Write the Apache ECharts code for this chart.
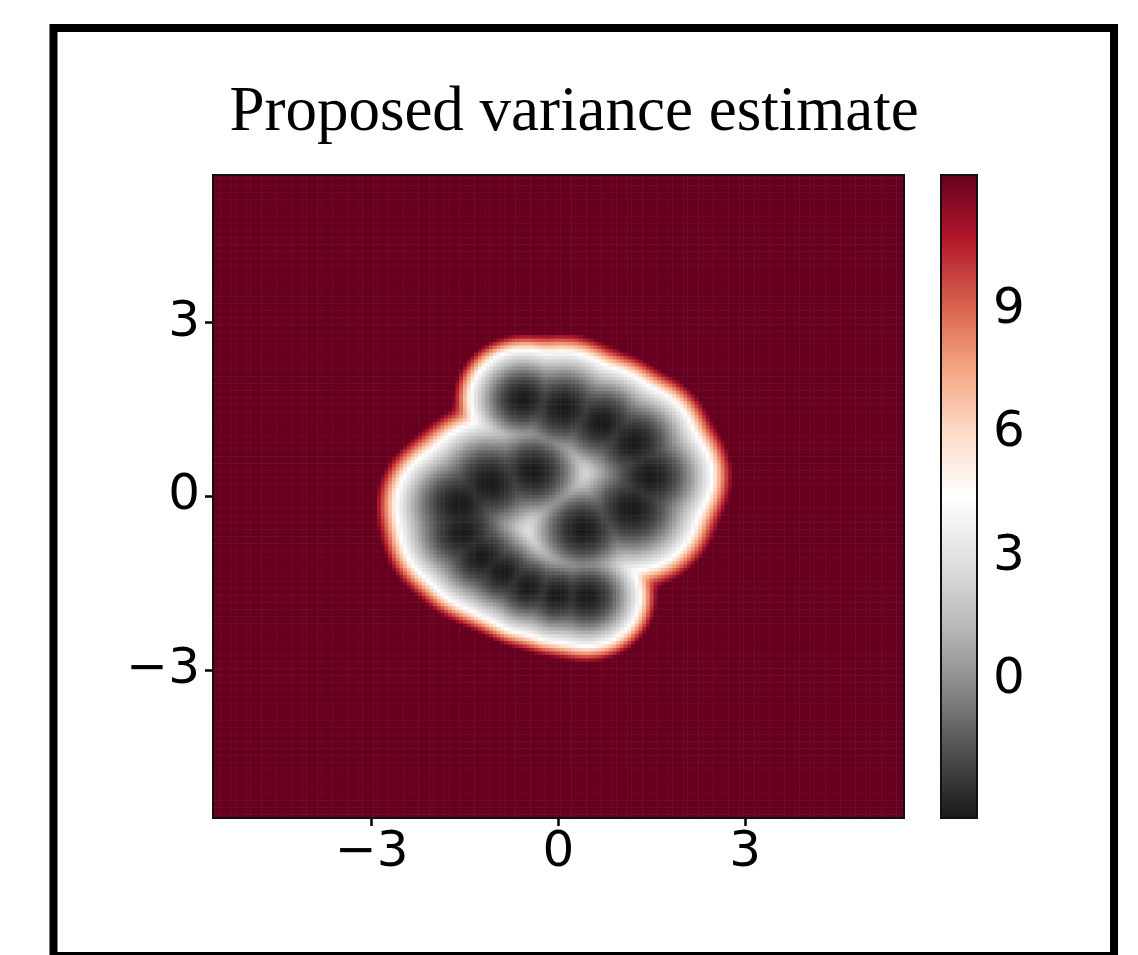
<!DOCTYPE html>
<html><head><meta charset="utf-8">
<script src="https://cdn.jsdelivr.net/npm/echarts@6/dist/echarts.min.js"></script>
<style>html,body{margin:0;padding:0;background:#fff}#c{width:1138px;height:955px}</style>
</head><body><div id="c"></div>
<script>
// Training points (centres of the dark blobs), and the
// radius (data units) at which the variance reaches the white level around each.
const pointX = [-0.56, 0.08, 0.70, 1.21, 1.47, 1.18, 0.40, -0.41, -1.10, -1.58, -1.53, -1.23, -0.89, -0.49, -0.02, 0.46];
const pointY = [1.68, 1.53, 1.28, 0.93, 0.35, -0.22, -0.57, 0.43, 0.24, -0.14, -0.62, -1.04, -1.31, -1.56, -1.70, -1.73];
const pointR = [0.85, 0.97, 0.95, 0.97, 1.00, 1.05, 0.95, 0.95, 1.05, 1.02, 0.98, 0.90, 0.82, 0.80, 0.80, 0.85];

const valueMin = -3.36, valueMax = 12.28;          // colour bar range
const gridMin = -5.55, gridMax = 5.55, cellStep = 0.06;
const xTickLabels = [-3, 0, 3];
const yTickLabels = [-3, 0, 3];
const colorbarTickLabels = [0, 3, 6, 9];
const titleText = 'Proposed variance estimate';
const rdgyR = ['#1a1a1a','#4d4d4d','#878787','#bababa','#e0e0e0','#ffffff','#fddbc7','#f4a582','#d6604d','#b2182b','#67001f'];

// cell centres
const nCells = Math.round((gridMax - gridMin) / cellStep);
const centres = [];
for (let k = 0; k < nCells; k++) centres.push(Math.round((gridMin + (k + 0.5) * cellStep) * 100) / 100);
const cats = centres.map(String);

const tau = 0.06;
function fieldValue(x, y) {
  const us = [];
  let m = Infinity;
  for (let i = 0; i < pointX.length; i++) {
    const u = Math.hypot(x - pointX[i], y - pointY[i]) / pointR[i];
    us.push(u); if (u < m) m = u;
  }
  let s = 0;
  for (const u of us) s += Math.exp(-(u - m) / tau);
  const u = Math.max(0, m - tau * Math.log(s));
  let h;
  if (u <= 1) h = 0.5 * Math.pow(u, 1.85);
  else h = 0.5 + 0.5 * Math.min(1, (u - 1) / 0.33);
  return valueMin + (valueMax - valueMin) * h;
}
const cells = [];
for (let i = 0; i < nCells; i++) for (let j = 0; j < nCells; j++) {
  cells.push([i, j, Math.round(fieldValue(centres[i], centres[j]) * 100) / 100]);
}

const tickFont = { fontFamily: 'DejaVu Sans', fontSize: 50, color: '#000' };
const minus = v => String(v).replace('-', '\u2212');
const chart = echarts.init(document.getElementById('c'), null, { renderer: 'canvas' });
chart.setOption({
  animation: false,
  backgroundColor: '#fff',
  graphic: [
    { type: 'rect', shape: { x: 53.5, y: 28, width: 1060.5, height: 928 }, style: { fill: 'none', stroke: '#000', lineWidth: 8 }, z: 100 },
    { type: 'text', style: { text: titleText, x: 574, y: 113, textAlign: 'center', textVerticalAlign: 'middle', fontFamily: 'Liberation Serif', fontSize: 63, fill: '#000' }, z: 100 }
  ],
  grid: [
    { left: 213, top: 175, width: 691, height: 643, show: true, borderColor: '#111', borderWidth: 2, backgroundColor: 'transparent', z: 10 },
    { left: 941, top: 175, width: 36, height: 643, show: true, borderColor: '#111', borderWidth: 2, backgroundColor: 'transparent', z: 10 }
  ],
  xAxis: [
    { type: 'category', gridIndex: 0, data: cats, axisLine: { show: false },
      axisTick: { show: true, alignWithLabel: true, length: 8, interval: (i, v) => xTickLabels.includes(Number(v)), lineStyle: { color: '#000', width: 2.5 } },
      axisLabel: Object.assign({ interval: (i, v) => xTickLabels.includes(Number(v)), formatter: minus, margin: 10 }, tickFont),
      splitLine: { show: false } },
    { type: 'value', gridIndex: 1, show: false }
  ],
  yAxis: [
    { type: 'category', gridIndex: 0, data: cats, axisLine: { show: false },
      axisTick: { show: true, alignWithLabel: true, length: 8, interval: (i, v) => yTickLabels.includes(Number(v)), lineStyle: { color: '#000', width: 2.5 } },
      axisLabel: Object.assign({ interval: (i, v) => yTickLabels.includes(Number(v)), formatter: minus, margin: 13 }, tickFont),
      splitLine: { show: false } },
    { type: 'value', gridIndex: 1, position: 'right', min: valueMin, max: valueMax,
      axisLine: { show: false },
      axisTick: { show: true, length: 8, customValues: colorbarTickLabels, lineStyle: { color: '#000', width: 2.5 } },
      axisLabel: Object.assign({ customValues: colorbarTickLabels, margin: 16, formatter: minus }, tickFont),
      splitLine: { show: false } }
  ],
  visualMap: {
    type: 'continuous', min: valueMin, max: valueMax, seriesIndex: 0, dimension: 2,
    calculable: false, orient: 'vertical', left: 941, top: 175, itemWidth: 36, itemHeight: 643,
    padding: 0, inRange: { color: rdgyR }, hoverLink: false
  },
  series: [{
    type: 'heatmap', xAxisIndex: 0, yAxisIndex: 0, data: cells, progressive: 0,
    emphasis: { disabled: true }
  }]
});
</script></body></html>
